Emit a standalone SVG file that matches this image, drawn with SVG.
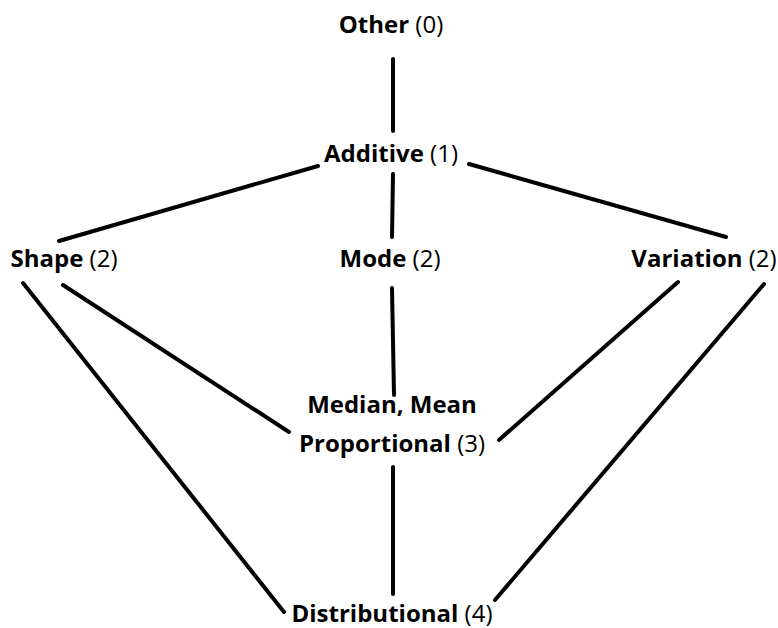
<svg xmlns="http://www.w3.org/2000/svg" width="778" height="628" viewBox="0 0 778 628">
<style>
text{font-family:"Open Sans","Noto Sans","Liberation Sans",sans-serif;font-size:24px;fill:#000;text-anchor:middle}
.b{font-weight:bold}
.e line{stroke:#000;stroke-width:4;stroke-linecap:round}
</style>
<rect width="778" height="628" fill="#fff"/>
<g class="e" id="connectors">
<line x1="393" y1="59" x2="393" y2="131"/>
<line x1="318" y1="166" x2="59" y2="241"/>
<line x1="393" y1="174" x2="392" y2="237"/>
<line x1="469" y1="164" x2="726" y2="237"/>
<line x1="23" y1="283" x2="284" y2="612"/>
<line x1="63" y1="285" x2="289" y2="432"/>
<line x1="392" y1="288" x2="394" y2="395"/>
<line x1="678" y1="282" x2="499" y2="440"/>
<line x1="764" y1="284" x2="495" y2="600"/>
<line x1="393" y1="467" x2="393" y2="594"/>
</g>
<g id="other"><text x="391" y="33"><tspan class="b">Other</tspan> (0)</text></g>
<g id="additive"><text x="391" y="162"><tspan class="b">Additive</tspan> (1)</text></g>
<g id="shape"><text x="64" y="267"><tspan class="b">Shape</tspan> (2)</text></g>
<g id="mode"><text x="390" y="267"><tspan class="b">Mode</tspan> (2)</text></g>
<g id="variation"><text x="704" y="267"><tspan class="b">Variation</tspan> (2)</text></g>
<g id="proportional"><text x="392" y="413" class="b">Median, Mean</text><text x="392" y="452"><tspan class="b">Proportional</tspan> (3)</text></g>
<g id="distributional"><text x="392" y="622"><tspan class="b">Distributional</tspan> (4)</text></g>
</svg>
